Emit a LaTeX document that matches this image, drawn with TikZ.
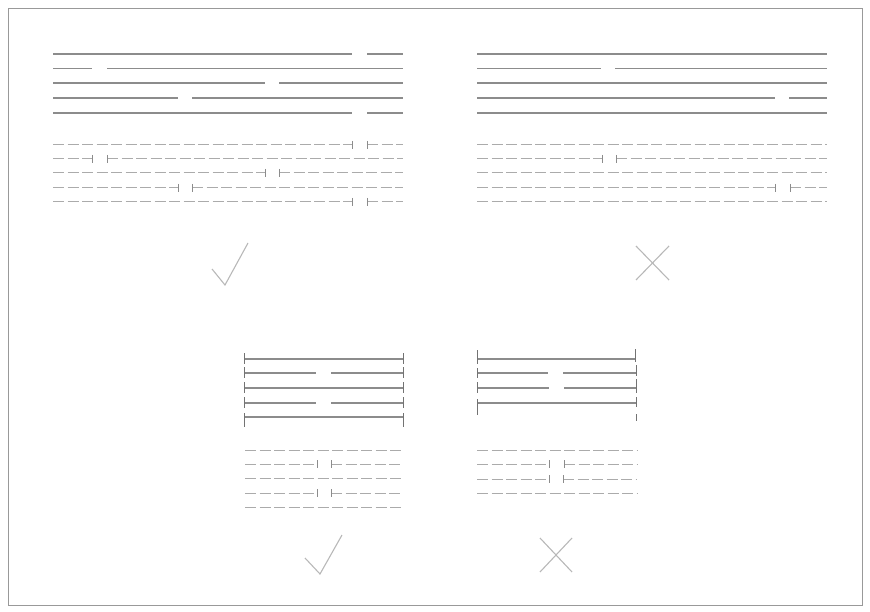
\documentclass[tikz,border=0pt]{standalone}
\begin{document}
\begin{tikzpicture}[x=1pt,y=-1pt,
  sline/.style={draw=black!45,line width=1.8pt},
  dline/.style={draw=black!33,line width=1pt,dash pattern=on 11pt off 3.5pt},
  tickm/.style={draw=black!45,line width=0.9pt},
  btick/.style={draw=black!55,line width=1pt},
  okmark/.style={draw=black!28,line width=1.1pt}]
\useasboundingbox (0,0) rectangle (870,612);
\draw[draw=black!40,line width=0.8pt] (8,8) rectangle (862,605);
\newcommand\gsolid[5]{\draw[sline] (#2,#1) -- (#3,#1); \draw[sline] (#4,#1) -- (#5,#1);}
\newcommand\gdash[5]{\draw[dline] (#2,#1) -- (#3,#1); \draw[dline] (#4,#1) -- (#5,#1);
  \draw[tickm] (#3,#1-4) -- (#3,#1+4); \draw[tickm] (#4,#1-4) -- (#4,#1+4);}
\newcommand\fsolid[3]{\draw[sline] (#2,#1) -- (#3,#1);}
\newcommand\fdash[3]{\draw[dline] (#2,#1) -- (#3,#1);}
% top-left solid
\gsolid{54}{53}{352}{367}{403}
\gsolid{68.5}{53}{92}{107}{403}
\gsolid{83}{53}{265}{279}{403}
\gsolid{98}{53}{178}{192}{403}
\gsolid{113}{53}{352}{367}{403}
% top-left dashed
\gdash{145}{53}{352}{367}{403}
\gdash{159}{53}{92}{107}{403}
\gdash{173}{53}{265}{279}{403}
\gdash{188}{53}{178}{192}{403}
\gdash{202}{53}{352}{367}{403}
% top-right solid
\fsolid{54}{477}{827}
\gsolid{68.5}{477}{601}{615}{827}
\fsolid{83}{477}{827}
\gsolid{98}{477}{775}{789}{827}
\fsolid{113}{477}{827}
% top-right dashed
\fdash{145}{477}{827}
\gdash{159}{477}{602}{616}{827}
\fdash{173}{477}{827}
\gdash{188}{477}{775}{790}{827}
\fdash{202}{477}{827}
% marks top
\draw[okmark] (212,269) -- (225,285) -- (248,243);
\draw[okmark] (636,246) -- (669,280);
\draw[okmark] (669,246) -- (636,280);
% bottom-left solid with end ticks
\fsolid{359}{244}{403}
\gsolid{373}{244}{316}{331}{403}
\fsolid{388}{244}{403}
\gsolid{403}{244}{316}{331}{403}
\fsolid{417}{244}{403}
\foreach \yy in {359,373,388,403}{
  \draw[btick] (244,\yy-6) -- (244,\yy+5);
  \draw[btick] (403,\yy-6) -- (403,\yy+5);}
\draw[btick] (244,413) -- (244,427);
\draw[btick] (403,413) -- (403,427);
% bottom-right solid
\fsolid{359}{477}{635}
\gsolid{373}{477}{548}{563}{636}
\gsolid{388}{477}{549}{564}{636}
\fsolid{403}{477}{636}
\draw[btick] (477,350) -- (477,364);
\draw[btick] (635,349) -- (635,362);
\draw[btick] (477,368) -- (477,378);
\draw[btick] (636,365) -- (636,376);
\draw[btick] (477,382) -- (477,393);
\draw[btick] (636,379) -- (636,393);
\draw[btick] (477,399) -- (477,415);
\draw[btick] (636,397) -- (636,407);
\draw[btick] (636,414) -- (636,421);
% bottom-left dashed
\fdash{450}{245}{403}
\gdash{464}{245}{317}{331}{403}
\fdash{478}{245}{403}
\gdash{493}{245}{317}{331}{403}
\fdash{507}{245}{403}
% bottom-right dashed
\fdash{450}{477}{637}
\gdash{464}{477}{549}{564}{637}
\gdash{479}{477}{549}{563}{637}
\fdash{493}{477}{637}
% marks bottom
\draw[okmark] (305,558) -- (320,574) -- (342,535);
\draw[okmark] (540,538) -- (572,572);
\draw[okmark] (572,538) -- (540,572);
\end{tikzpicture}
\end{document}
